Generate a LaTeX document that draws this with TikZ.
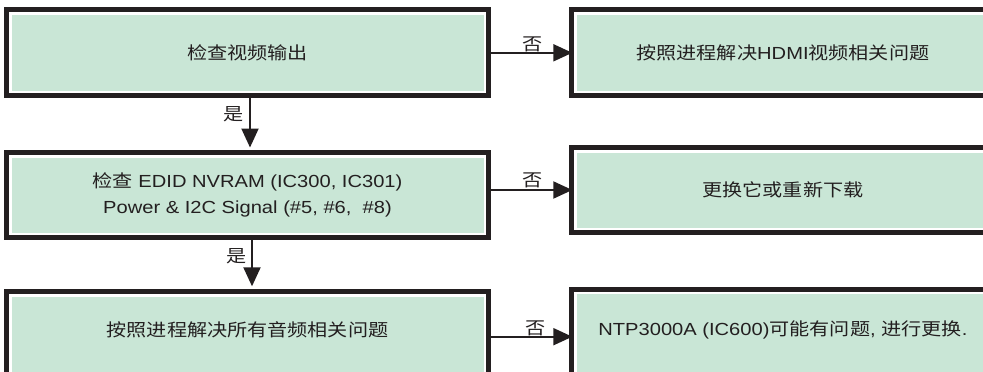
\documentclass[tikz,border=0pt]{standalone}
\usepackage{fontspec}
\setmainfont[FakeStretch=1.15]{Liberation Sans}
\newfontfamily\cjkf[FakeStretch=1.15]{Noto Sans CJK SC}
\newcommand\zh[1]{{\cjkf #1}}
\usetikzlibrary{arrows.meta}
\definecolor{boxgreen}{RGB}{201,230,214}
\definecolor{ink}{RGB}{35,31,32}
\tikzset{
  box/.style={draw=ink, line width=5pt, fill=boxgreen, text=ink, align=center,
    inner sep=0pt, font=\fontsize{17.5}{26}\selectfont,
    path picture={\draw[white, line width=2.5pt]
      ([xshift=3.75pt,yshift=-3.75pt]path picture bounding box.north west) rectangle
      ([xshift=-3.75pt,yshift=3.75pt]path picture bounding box.south east);}},
  boxtext/.style={text=ink, align=center, inner sep=0pt, font=\fontsize{17.5}{26}\selectfont},
  flow/.style={draw=ink, line width=2pt, -{Triangle[length=19pt,width=17pt]}},
  lab/.style={text=ink, inner sep=0pt, font=\fontsize{17.5}{26}\selectfont}
}
\begin{document}
\begin{tikzpicture}[x=1pt,y=-1pt]
\useasboundingbox (0,0) rectangle (983,372);
\clip (0,0) rectangle (983,372);
% left column
\node[box, minimum width=482pt, minimum height=86pt] (l1) at (247.5,52.8) {\zh{检查视频输出}};
\node[box, minimum width=482pt, minimum height=85pt] (l2) at (247.5,195)
  {\zh{检查} EDID NVRAM (IC300, IC301)\\Power \& I2C Signal (\#5, \#6, ~\#8)};
\node[box, minimum width=482pt, minimum height=95pt,
  label={[boxtext, yshift=9.3pt]center:{\zh{按照进程解决所有音频相关问题}}}] (l3) at (247.5,339.3) {};
% right column
\node[box, minimum width=422.2pt, minimum height=86pt] (r1) at (782.9,52.8) {\zh{按照进程解决}HDMI\zh{视频相关问题}};
\node[box, minimum width=422.2pt, minimum height=85pt] (r2) at (782.9,190) {\zh{更换它或重新下载}};
\node[box, minimum width=422.2pt, minimum height=95pt,
  label={[boxtext, yshift=6.7pt]center:{NTP3000A (IC600)\zh{可能有问题}, \zh{进行更换}.}}] (r3) at (782.9,336.7) {};
% vertical connectors
\coordinate (v1) at ([xshift=2.5pt]l1.south);
\coordinate (v2) at ([xshift=4.5pt]l2.south);
\draw[flow, shorten >=2.5pt] (v1) -- node[lab, left=5pt, pos=0.3]{\zh{是}} (v1 |- l2.north);
\draw[flow, shorten >=3pt] (v2) -- node[lab, left=4.5pt, pos=0.32]{\zh{是}} (v2 |- l3.north);
% horizontal connectors
\draw[flow, shorten >=-3pt] (l1.east |- r1.west) -- node[lab, pos=0.534, yshift=8.7pt]{\zh{否}} (r1.west);
\draw[flow, shorten >=-3pt] (l2.east |- r2.west) -- node[lab, pos=0.534, yshift=10pt]{\zh{否}} (r2.west);
\draw[flow, shorten >=-3pt] (l3.east |- r3.west) -- node[lab, pos=0.57, yshift=8.7pt]{\zh{否}} (r3.west);
\end{tikzpicture}
\end{document}
